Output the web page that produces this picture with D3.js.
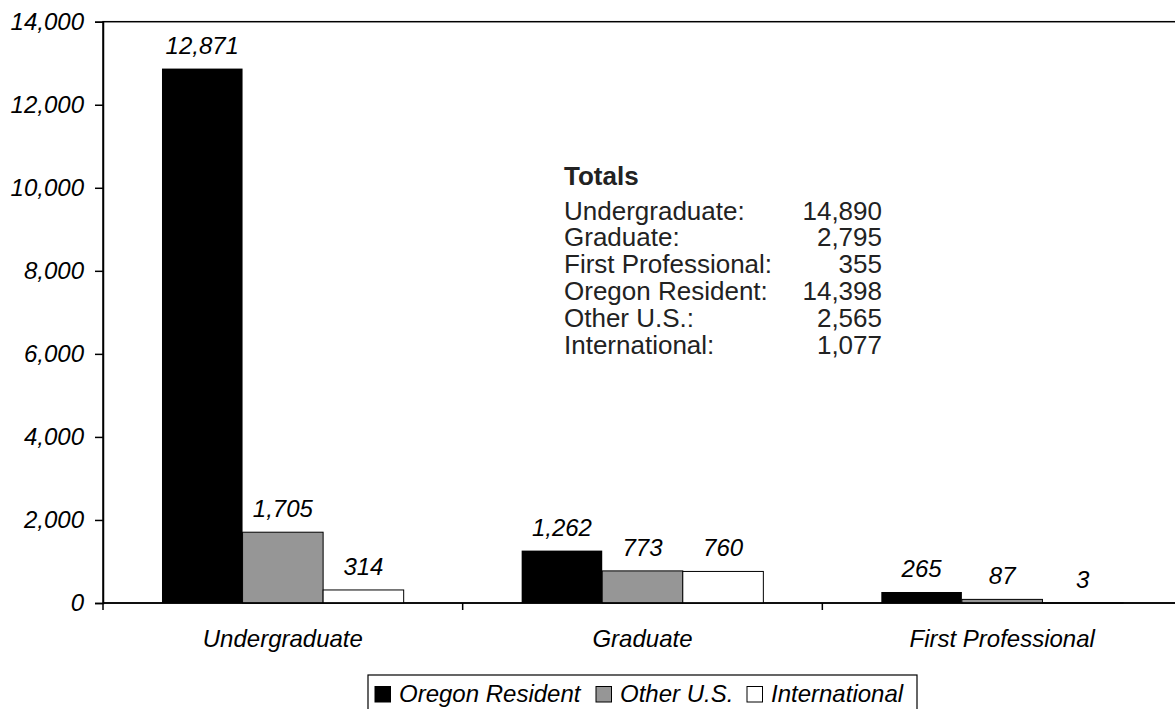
<!DOCTYPE html>
<html>
<head>
<meta charset="utf-8">
<script src="https://cdn.jsdelivr.net/npm/d3@7"></script>
<style>
  body { margin: 0; background: #fff; }
  svg { display: block; font-family: "Liberation Sans", Arial, sans-serif; }
</style>
</head>
<body>
<script>
// data
const categories = ["Undergraduate", "Graduate", "First Professional"];
const series = ["Oregon Resident", "Other U.S.", "International"];
const oregon = [12871, 1262, 265];
const otherUS = [1705, 773, 87];
const international = [314, 760, 3];
const seriesColors = ["#000000", "#969696", "#ffffff"];
const yTicks = [0, 2000, 4000, 6000, 8000, 10000, 12000, 14000];
const totalLabels = ["Undergraduate:", "Graduate:", "First Professional:", "Oregon Resident:", "Other U.S.:", "International:"];
const totalValues = [14890, 2795, 355, 14398, 2565, 1077];

const W = 1175, H = 709;
const plotL = 103, plotT = 21.7, plotR = 1182, plotB = 603;

const svg = d3.select("body").append("svg")
  .attr("width", W)
  .attr("height", H);

// rows for the grouped bars
const rows = categories.map(function(c, i) {
  return { cat: c, values: [oregon[i], otherUS[i], international[i]] };
});

const x0 = d3.scaleBand()
  .domain(categories)
  .range([plotL, plotR]);

const bw = x0.bandwidth();
const x1 = d3.scaleBand()
  .domain(series)
  .range([bw * 0.164, bw * 0.836]);

const y = d3.scaleLinear()
  .domain([0, 14000])
  .range([plotB, plotT]);

const fmt = d3.format(",");

// plot area frame (right side falls past the picture edge)
svg.append("rect")
  .attr("x", plotL)
  .attr("y", plotT)
  .attr("width", plotR - plotL)
  .attr("height", plotB - plotT)
  .attr("fill", "none")
  .attr("stroke", "#000")
  .attr("stroke-width", 1.5);

// bars
const g = svg.selectAll("g.cat").data(rows)
  .enter().append("g")
  .attr("class", "cat")
  .attr("transform", function(d) { return "translate(" + x0(d.cat) + ",0)"; });

g.selectAll("rect")
  .data(function(d) { return d.values.map(function(v, j) { return { s: series[j], v: v, j: j }; }); })
  .enter().append("rect")
  .attr("x", function(d) { return x1(d.s); })
  .attr("y", function(d) { return y(d.v); })
  .attr("width", x1.bandwidth())
  .attr("height", function(d) { return plotB - y(d.v); })
  .attr("fill", function(d) { return seriesColors[d.j]; })
  .attr("stroke", "#000")
  .attr("stroke-width", function(d) { return d.j === 0 ? 0 : 1; });

// value labels
g.selectAll("text")
  .data(function(d) { return d.values.map(function(v, j) { return { s: series[j], v: v }; }); })
  .enter().append("text")
  .attr("x", function(d) { return x1(d.s) + x1.bandwidth() / 2; })
  .attr("y", function(d) { return y(d.v) - 15; })
  .attr("text-anchor", "middle")
  .attr("font-size", 24)
  .attr("font-style", "italic")
  .text(function(d) { return fmt(d.v); });

// y axis
const yAxis = d3.axisLeft(y)
  .tickValues(yTicks)
  .tickFormat(fmt)
  .tickSize(8)
  .tickPadding(11);

svg.append("g")
  .attr("transform", "translate(" + plotL + ",0)")
  .call(yAxis)
  .call(function(a) {
    a.select(".domain").attr("stroke-width", 1.5);
    a.selectAll(".tick line").attr("stroke-width", 1.5);
    a.selectAll("text")
      .attr("font-family", "'Liberation Sans', Arial, sans-serif")
      .attr("font-size", 24)
      .attr("font-style", "italic")
      .attr("fill", "#000");
  });

// x axis line and category separators
svg.append("line")
  .attr("x1", plotL).attr("x2", plotR)
  .attr("y1", plotB).attr("y2", plotB)
  .attr("stroke", "#000")
  .attr("stroke-width", 1.5);

const seps = categories.map(function(c) { return x0(c); }).concat([plotR]);
svg.selectAll("line.sep").data(seps)
  .enter().append("line")
  .attr("class", "sep")
  .attr("x1", function(d) { return d; })
  .attr("x2", function(d) { return d; })
  .attr("y1", plotB)
  .attr("y2", plotB + 7)
  .attr("stroke", "#000")
  .attr("stroke-width", 1.5);

svg.selectAll("text.cat").data(categories)
  .enter().append("text")
  .attr("class", "cat")
  .attr("x", function(d) { return x0(d) + bw / 2; })
  .attr("y", 646.5)
  .attr("text-anchor", "middle")
  .attr("font-size", 24)
  .attr("font-style", "italic")
  .text(function(d) { return d; });

// totals block: one text per column, rows as tspans
const tot = svg.append("g").attr("font-size", 26).attr("fill", "#222");
tot.append("text")
  .attr("x", 564)
  .attr("y", 185)
  .attr("font-weight", "bold")
  .text("Totals");

const lineStep = 26.8;
const labelCol = tot.append("text").attr("y", 219.5);
labelCol.selectAll("tspan").data(totalLabels)
  .enter().append("tspan")
  .attr("x", 564)
  .attr("dy", function(d, i) { return i === 0 ? 0 : lineStep; })
  .text(function(d) { return d; });

const valueCol = tot.append("text").attr("y", 219.5).attr("text-anchor", "end");
valueCol.selectAll("tspan").data(totalValues)
  .enter().append("tspan")
  .attr("x", 882)
  .attr("dy", function(d, i) { return i === 0 ? 0 : lineStep; })
  .text(function(d) { return fmt(d); });

// legend
const legend = svg.append("g");
legend.append("rect")
  .attr("x", 368).attr("y", 675)
  .attr("width", 549).attr("height", 45)
  .attr("fill", "#fff")
  .attr("stroke", "#000")
  .attr("stroke-width", 1.2);

const legendX = [375, 596, 747];
series.forEach(function(s, i) {
  legend.append("rect")
    .attr("x", legendX[i]).attr("y", 686.5)
    .attr("width", 15.5).attr("height", 15.5)
    .attr("fill", seriesColors[i])
    .attr("stroke", "#000")
    .attr("stroke-width", 1);
  legend.append("text")
    .attr("x", legendX[i] + 24)
    .attr("y", 702)
    .attr("font-size", 24)
    .attr("font-style", "italic")
    .text(s);
});
</script>
</body>
</html>
